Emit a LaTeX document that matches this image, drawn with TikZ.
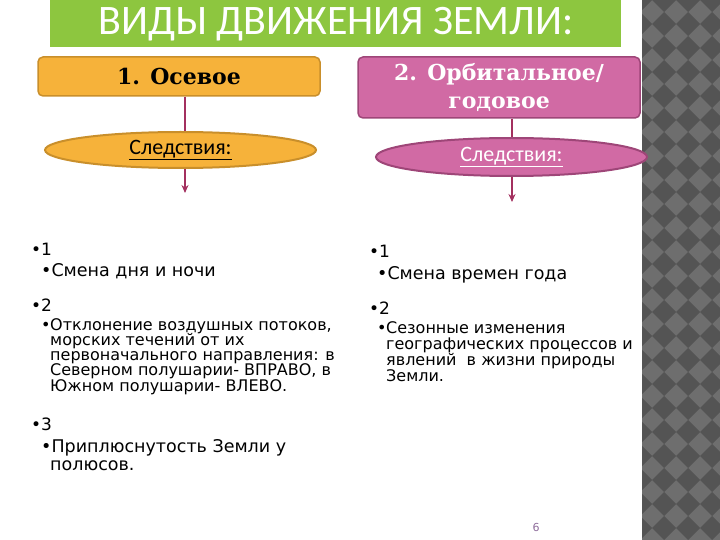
\documentclass[tikz,border=0pt]{standalone}
\usepackage{fontspec}
\setmainfont{DejaVu Sans}
\newfontfamily\titlefont{Carlito}
\newfontfamily\boxfont{DejaVu Serif}
\usetikzlibrary{shapes.geometric,arrows.meta}
\definecolor{banner}{HTML}{8DC63F}
\definecolor{axfill}{HTML}{F6B23A}
\definecolor{axdraw}{HTML}{C98F2B}
\definecolor{orfill}{HTML}{D16AA4}
\definecolor{ordraw}{HTML}{9E4678}
\definecolor{linkc}{HTML}{A3305F}
\definecolor{stripl}{HTML}{6E6E6E}
\definecolor{stripd}{HTML}{545454}
\definecolor{pagec}{HTML}{8D6B9A}

\tikzset{
  motion/.style={draw, line width=1.5pt, rounded corners=5pt, inner sep=0pt,
    minimum width=282pt, align=center,
    font=\boxfont\bfseries\fontsize{22}{28}\selectfont},
  cons/.style={ellipse, draw, line width=2pt, inner sep=0pt,
    minimum width=271pt, font=\titlefont\fontsize{22}{24}\selectfont},
  link/.style={draw=linkc, line width=1.2pt},
  lvlone/.style={anchor=base west, inner sep=0pt, font=\fontsize{17}{17}\selectfont},
  lvltwo/.style={anchor=base west, inner sep=0pt, font=\fontsize{17.5}{18}\selectfont},
  lvlsmall/.style={anchor=base west, inner sep=0pt, font=\fontsize{16}{16}\selectfont}
}

\begin{document}
\begin{tikzpicture}[x=1pt,y=-1pt]
\useasboundingbox (0,0) rectangle (720,540);

% side strip
\fill[stripl] (642,0) rectangle (720,540);
\begin{scope}
\clip (642,0) rectangle (720,540);
\foreach \i in {0,...,4}
  \foreach \j in {0,...,23}
    \fill[stripd] (640+24*\i,24*\j-12) -- ++(12,12) -- ++(-12,12) -- ++(-12,-12) -- cycle;
\end{scope}

% title
\fill[banner] (50,0) rectangle (621,47);
\node[text=white, font=\titlefont\fontsize{42}{42}\selectfont] (title) at (336,24) {ВИДЫ ДВИЖЕНИЯ ЗЕМЛИ:};

% two kinds of motion
\node[motion, fill=axfill, draw=axdraw, minimum height=39pt] (axial) at (179,76.5) {1. Осевое};
\node[motion, fill=orfill, draw=ordraw, minimum height=61pt, text=white] (orbit) at (499,87.5) {2. Орбитальное/\\годовое};

\node[cons, fill=axfill, draw=axdraw, minimum height=36pt] (cons1) at (180.5,150) {\underline{Следствия:}};
\node[cons, fill=orfill, draw=ordraw, minimum height=38pt, text=white] (cons2) at (511.5,157) {\underline{Следствия:}};

\coordinate (end1) at (185,193);
\coordinate (end2) at (512,202);
\draw[link] (axial.south -| end1) -- (cons1.north -| end1);
\draw[link,-{Stealth[length=8pt,width=7pt]}] (cons1.south -| end1) -- (end1);
\draw[link] (orbit.south -| end2) -- (cons2.north -| end2);
\draw[link,-{Stealth[length=8pt,width=7pt]}] (cons2.south -| end2) -- (end2);

% left list
\node[lvlone] (a1) at (31,255) {•1};
\node[lvltwo] (a1t) at (41,276.5) {•Смена дня и ночи};
\node[lvlone] (a2) at (31,311.5) {•2};
\node[lvlsmall] (a2b) at (41,330) {•};
\foreach \line [count=\k] in {{Отклонение воздушных потоков,},{морских течений от их},
    {первоначального направления: в},{Северном полушарии- ВПРАВО, в},{Южном полушарии- ВЛЕВО.}}
  \node[lvlsmall] (a2l\k) at (50,314.7+15.3*\k) {\line};
\node[lvlone] (a3) at (31,430) {•3};
\node[lvltwo] (a3t) at (41,452) {•Приплюснутость Земли у};
\node[lvltwo] (a3u) at (50,470) {полюсов.};

% right list
\node[lvlone] (b1) at (369,257) {•1};
\node[lvltwo] (b1t) at (377,279) {•Смена времен года};
\node[lvlone] (b2) at (369,314.5) {•2};
\node[lvlsmall] (b2b) at (377,333) {•};
\foreach \line [count=\k] in {{Сезонные изменения},{географических процессов и},
    {явлений\ \ в жизни природы},{Земли.}}
  \node[lvlsmall] (b2l\k) at (386,316.7+16.3*\k) {\line};

\node[text=pagec, font=\fontsize{11}{11}\selectfont] (page) at (536,527) {6};
\end{tikzpicture}
\end{document}
